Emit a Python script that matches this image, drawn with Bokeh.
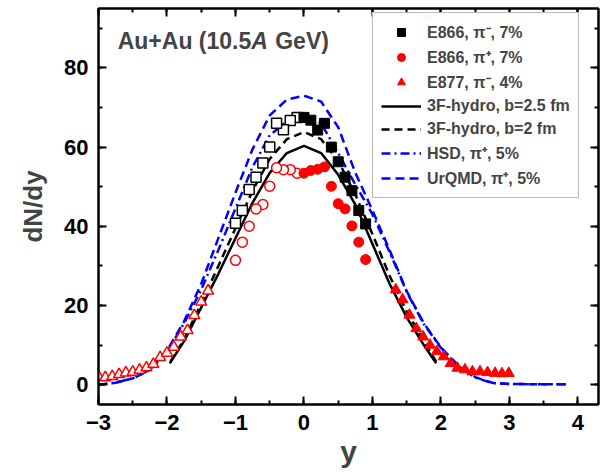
from bokeh.plotting import figure
from bokeh.models import (Range1d, LinearAxis, Legend, LegendItem, Label, FixedTicker,
                          CustomLabelingPolicy)
from bokeh.embed import file_html
from bokeh.resources import INLINE

# ---------------- data ----------------
# E866 pi-, 7% : filled (measured) and open (reflected)
pim_y_fill = [0.0, 0.1, 0.2, 0.3, 0.4, 0.5, 0.6, 0.7, 0.8, 0.9]
pim_v_fill = [67.5, 66.8, 64.3, 66.0, 60.0, 56.3, 52.4, 49.0, 44.0, 40.6]
pim_y_open = [-0.1, -0.2, -0.3, -0.4, -0.5, -0.6, -0.7, -0.8, -0.9, -1.0]
pim_v_open = [67.5, 66.7, 64.4, 66.0, 60.0, 56.0, 52.4, 49.3, 44.0, 40.8]

# E866 pi+, 7%
pip_y_fill = [0.0, 0.1, 0.2, 0.3, 0.4, 0.5, 0.6, 0.7, 0.8, 0.9]
pip_v_fill = [53.4, 54.1, 54.4, 55.0, 50.1, 45.7, 44.4, 40.1, 36.0, 31.6]
pip_y_open = [-0.1, -0.2, -0.3, -0.4, -0.5, -0.6, -0.7, -0.8, -0.9, -1.0]
pip_v_open = [53.4, 54.3, 54.3, 54.8, 50.1, 45.5, 44.4, 40.0, 36.0, 31.4]

# E877 pi-, 4%
e877_y_fill = [1.34, 1.44, 1.54, 1.64, 1.74, 1.84, 1.94, 2.04, 2.14, 2.24,
               2.35, 2.46, 2.57, 2.68, 2.79, 2.89, 2.99]
e877_v_fill = [24.0, 21.5, 17.6, 14.2, 12.1, 10.0, 8.4, 7.1, 5.4, 4.2,
               3.8, 3.3, 3.3, 3.1, 2.9, 2.8, 2.9]
e877_y_open = [-3.0, -2.9, -2.8, -2.7, -2.6, -2.5, -2.4, -2.3, -2.2, -2.1,
               -2.0, -1.9, -1.8, -1.7, -1.6, -1.5, -1.4]
e877_v_open = [2.1, 1.8, 2.1, 2.6, 3.0, 3.2, 3.7, 4.3, 5.2, 6.9,
               8.0, 9.5, 12.1, 13.7, 17.5, 20.9, 23.7]

# 3F-hydro, b=2.5 fm (solid)
h25_y = [-1.96, -1.75, -1.5, -1.25, -1.0, -0.75, -0.5, -0.25, 0.0,
         0.25, 0.5, 0.75, 1.0, 1.25, 1.5, 1.75, 1.93]
h25_v = [5.4, 11.0, 19.5, 28.0, 37.0, 46.0, 53.5, 58.5, 60.3,
         58.5, 53.0, 45.5, 35.5, 25.5, 17.0, 10.0, 5.4]

# 3F-hydro, b=2 fm (dashed)
h20_y = [-1.95, -1.75, -1.5, -1.25, -1.0, -0.75, -0.5, -0.25, 0.0,
         0.25, 0.5, 0.75, 1.0, 1.25, 1.5, 1.75, 1.93]
h20_v = [5.8, 11.5, 20.5, 30.0, 39.5, 49.0, 57.0, 62.0, 63.8,
         62.0, 56.5, 48.0, 38.0, 27.5, 18.5, 11.0, 5.8]

# HSD, pi+, 5% (dash-dot)
hsd_y = [-3.0, -2.75, -2.5, -2.25, -2.0, -1.75, -1.5, -1.25, -1.0, -0.75, -0.5, -0.25, 0.0,
         0.25, 0.5, 0.75, 1.0, 1.25, 1.5, 1.75, 2.0, 2.25, 2.5, 2.75, 3.0, 3.4, 3.85]
hsd_v = [0.0, 0.5, 1.6, 3.7, 8.3, 15.5, 24.0, 34.0, 44.5, 55.0, 63.0, 66.5, 67.5,
         66.0, 58.5, 50.5, 43.0, 33.5, 23.4, 15.3, 9.3, 4.8, 1.8, 0.4, 0.2, 0.1, 0.1]

# UrQMD, pi+, 5% (dashed)
urq_y = [-3.0, -2.75, -2.5, -2.25, -2.0, -1.75, -1.5, -1.25, -1.0, -0.75, -0.5, -0.25, 0.0,
         0.25, 0.5, 0.75, 1.0, 1.25, 1.5, 1.75, 2.0, 2.25, 2.5, 2.75, 3.0, 3.4, 3.85]
urq_v = [0.0, 0.5, 1.6, 3.8, 8.6, 16.0, 25.5, 37.0, 48.5, 59.5, 68.0, 72.0, 73.0,
         71.5, 65.0, 53.5, 44.0, 34.0, 23.6, 15.5, 9.4, 4.9, 1.9, 0.5, 0.2, 0.1, 0.1]

x_major = [-3, -2, -1, 0, 1, 2, 3, 4]
x_minor = [-3, -2.5, -2, -1.5, -1, -0.5, 0, 0.5, 1, 1.5, 2, 2.5, 3, 3.5, 4]
y_major = [0, 20, 40, 60, 80]
y_minor = [0, 10, 20, 30, 40, 50, 60, 70, 80, 90]

labels = ["E866, \u03c0\u207b, 7%", "E866, \u03c0\u207a, 7%", "E877, \u03c0\u207b, 4%",
          "3F-hydro, b=2.5 fm", "3F-hydro, b=2 fm",
          "HSD, \u03c0\u207a, 5%", "UrQMD, \u03c0\u207a, 5%"]

FONT = "Liberation Sans"
BLUE = "#0000ff"
RED = "#ff0000"

p = figure(width=607, height=475, x_range=Range1d(-3.0, 4.3), y_range=Range1d(-5, 95),
           output_backend="svg", toolbar_location=None,
           min_border_left=98, min_border_right=9, min_border_top=8, min_border_bottom=71)
p.xgrid.visible = False
p.ygrid.visible = False
p.outline_line_color = "black"
p.outline_line_width = 2

hide_labels = CustomLabelingPolicy(code="""
const all = [...indices];
for (const i of all) indices.unset(i);
return indices;
""")
top_axis = LinearAxis(major_label_policy=hide_labels)
right_axis = LinearAxis(major_label_policy=hide_labels)
p.add_layout(top_axis, "above")
p.add_layout(right_axis, "right")

for ax in p.xaxis:
    ax.ticker = FixedTicker(ticks=x_major, minor_ticks=x_minor)
for ax in p.yaxis:
    ax.ticker = FixedTicker(ticks=y_major, minor_ticks=y_minor)

for ax in p.axis:
    ax.axis_line_width = 2
    ax.axis_line_color = "black"
    ax.major_tick_line_width = 2
    ax.minor_tick_line_width = 2
    ax.major_tick_in = 8
    ax.major_tick_out = 0
    ax.minor_tick_in = 4
    ax.minor_tick_out = 0
    ax.major_label_text_font = FONT
    ax.major_label_text_font_style = "bold"
    ax.major_label_text_font_size = "22px"
    ax.major_label_text_color = "black"

for ax in (top_axis, right_axis):
    ax.major_label_text_font_size = "0px"
    ax.major_label_standoff = 0

for ax in (p.below[0], p.left[0]):
    ax.major_label_standoff = 10

p.below[0].axis_label = "y"
p.below[0].axis_label_text_font = FONT
p.below[0].axis_label_text_font_style = "bold"
p.below[0].axis_label_text_font_size = "30px"
p.below[0].axis_label_standoff = 2
p.left[0].axis_label = "dN/dy"
p.left[0].axis_label_text_font = FONT
p.left[0].axis_label_text_font_style = "bold"
p.left[0].axis_label_text_font_size = "26px"
p.left[0].axis_label_standoff = 13

# model curves
r_urq = p.line(urq_y, urq_v, line_color=BLUE, line_width=2.5, line_dash="9 5")
r_hsd = p.line(hsd_y, hsd_v, line_color=BLUE, line_width=2.5, line_dash="9 4 2 4")
r_h20 = p.line(h20_y, h20_v, line_color="black", line_width=2.5, line_dash="8 5")
r_h25 = p.line(h25_y, h25_v, line_color="black", line_width=2.5)

# data points
p.scatter(pim_y_open, pim_v_open, marker="square", size=10, fill_color="white",
          line_color="black", line_width=1.5)
r_pim = p.scatter(pim_y_fill, pim_v_fill, marker="square", size=10, fill_color="black",
                  line_color="black")
p.scatter(pip_y_open, pip_v_open, marker="circle", size=10, fill_color="white",
          line_color=RED, line_width=1.5)
r_pip = p.scatter(pip_y_fill, pip_v_fill, marker="circle", size=10, fill_color=RED,
                  line_color=RED)
p.scatter(e877_y_open, e877_v_open, marker="triangle", size=11, fill_color="white",
          line_color=RED, line_width=1.5)
r_e877 = p.scatter(e877_y_fill, e877_v_fill, marker="triangle", size=11, fill_color=RED,
                   line_color=RED)

legend = Legend(items=[
    LegendItem(label=labels[0], renderers=[r_pim]),
    LegendItem(label=labels[1], renderers=[r_pip]),
    LegendItem(label=labels[2], renderers=[r_e877]),
    LegendItem(label=labels[3], renderers=[r_h25]),
    LegendItem(label=labels[4], renderers=[r_h20]),
    LegendItem(label=labels[5], renderers=[r_hsd]),
    LegendItem(label=labels[6], renderers=[r_urq]),
], location=(274, 206))
legend.label_text_font = FONT
legend.label_text_font_style = "bold"
legend.label_text_font_size = "16px"
legend.glyph_width = 40
legend.glyph_height = 20
legend.label_height = 20
legend.spacing = 3
legend.padding = 8
legend.label_standoff = 6
legend.border_line_color = "#777777"
legend.border_line_width = 1
legend.background_fill_color = "white"
legend.background_fill_alpha = 1.0
p.add_layout(legend)

# panel title "Au+Au (10.5A GeV)"
TY = 86.9
t1 = Label(x=-2.72, y=TY, text="Au+Au (10.5", text_font=FONT, text_font_style="bold",
           text_font_size="23px", text_baseline="middle")
t2 = Label(x=-0.77, y=TY, text="A", text_font=FONT, text_font_style="bold italic",
           text_font_size="23px", text_baseline="middle")
t3 = Label(x=-0.42, y=TY, text="GeV)", text_font=FONT, text_font_style="bold",
           text_font_size="23px", text_baseline="middle")
for t in (t1, t2, t3):
    p.add_layout(t)

open("out.html", "w").write(file_html(p, INLINE))
